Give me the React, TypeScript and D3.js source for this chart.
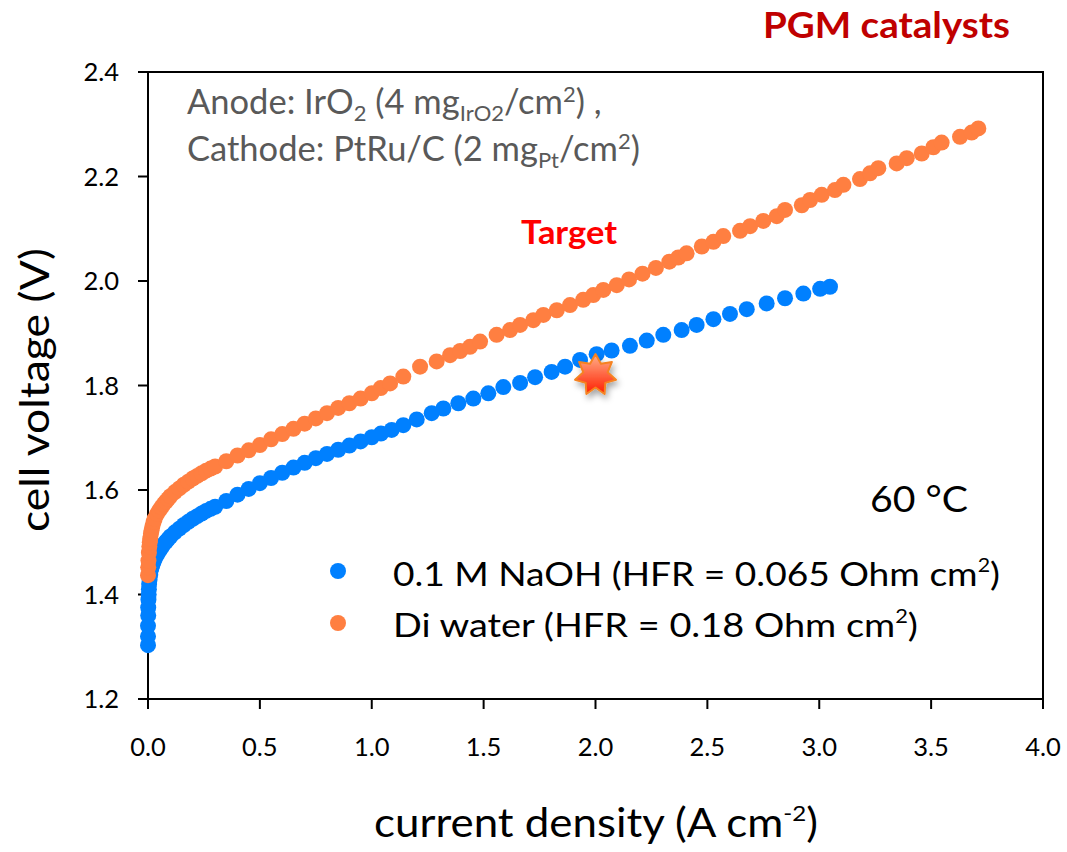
import React from 'react';
import * as d3 from 'd3';

const naohCurrent = [0, 0, 0, 0.001, 0.001, 0.002, 0.003, 0.004, 0.005, 0.007, 0.01, 0.015, 0.02, 0.025, 0.03, 0.04, 0.05, 0.06, 0.07, 0.08, 0.09, 0.1, 0.12, 0.14, 0.16, 0.18, 0.2, 0.22, 0.24, 0.26, 0.28, 0.3, 0.35, 0.4, 0.45, 0.5, 0.55, 0.6, 0.65, 0.7, 0.75, 0.8, 0.85, 0.9, 0.95, 1.0, 1.041, 1.089, 1.141, 1.201, 1.268, 1.32, 1.387, 1.454, 1.521, 1.588, 1.663, 1.73, 1.804, 1.864, 1.931, 2.005, 2.072, 2.154, 2.229, 2.303, 2.385, 2.452, 2.527, 2.601, 2.676, 2.765, 2.847, 2.929, 3.004, 3.048];
const naohVoltage = [1.303, 1.32, 1.34, 1.36, 1.375, 1.39, 1.4, 1.41, 1.42, 1.428, 1.438, 1.45, 1.457, 1.463, 1.468, 1.476, 1.483, 1.49, 1.496, 1.501, 1.506, 1.511, 1.519, 1.526, 1.533, 1.539, 1.545, 1.55, 1.555, 1.56, 1.564, 1.568, 1.579, 1.591, 1.602, 1.613, 1.623, 1.633, 1.643, 1.652, 1.661, 1.669, 1.677, 1.685, 1.693, 1.701, 1.708, 1.715, 1.724, 1.735, 1.747, 1.756, 1.766, 1.775, 1.785, 1.797, 1.805, 1.816, 1.826, 1.836, 1.849, 1.86, 1.867, 1.876, 1.886, 1.897, 1.906, 1.916, 1.927, 1.937, 1.946, 1.957, 1.967, 1.976, 1.985, 1.989];

const diCurrent = [0, 0.001, 0.002, 0.004, 0.006, 0.008, 0.01, 0.013, 0.016, 0.02, 0.025, 0.03, 0.04, 0.05, 0.06, 0.07, 0.08, 0.09, 0.1, 0.12, 0.14, 0.16, 0.18, 0.2, 0.22, 0.24, 0.26, 0.28, 0.3, 0.35, 0.4, 0.45, 0.5, 0.55, 0.6, 0.65, 0.7, 0.75, 0.8, 0.85, 0.9, 0.95, 1.0, 1.04, 1.082, 1.141, 1.216, 1.29, 1.35, 1.395, 1.439, 1.484, 1.558, 1.618, 1.663, 1.722, 1.767, 1.827, 1.886, 1.945, 1.99, 2.035, 2.095, 2.15, 2.21, 2.27, 2.33, 2.37, 2.407, 2.475, 2.527, 2.571, 2.646, 2.691, 2.75, 2.81, 2.847, 2.922, 2.959, 3.011, 3.07, 3.108, 3.182, 3.227, 3.264, 3.346, 3.391, 3.458, 3.51, 3.547, 3.629, 3.681, 3.711];
const diVoltage = [1.437, 1.452, 1.465, 1.48, 1.492, 1.5, 1.507, 1.516, 1.523, 1.531, 1.539, 1.545, 1.554, 1.561, 1.567, 1.573, 1.578, 1.583, 1.588, 1.596, 1.603, 1.61, 1.616, 1.622, 1.627, 1.632, 1.637, 1.641, 1.645, 1.655, 1.666, 1.676, 1.686, 1.697, 1.707, 1.717, 1.727, 1.737, 1.747, 1.757, 1.766, 1.775, 1.785, 1.795, 1.804, 1.817, 1.836, 1.846, 1.858, 1.866, 1.874, 1.884, 1.897, 1.906, 1.916, 1.925, 1.935, 1.944, 1.954, 1.964, 1.973, 1.983, 1.992, 2.003, 2.014, 2.025, 2.037, 2.045, 2.053, 2.066, 2.075, 2.086, 2.096, 2.105, 2.115, 2.124, 2.136, 2.145, 2.155, 2.165, 2.174, 2.184, 2.195, 2.206, 2.216, 2.225, 2.235, 2.244, 2.256, 2.265, 2.276, 2.284, 2.292];

const xTicks = [0, 0.5, 1.0, 1.5, 2.0, 2.5, 3.0, 3.5, 4.0];
const yTicks = [1.2, 1.4, 1.6, 1.8, 2.0, 2.2, 2.4];
const targetCurrent = 2.0;
const targetVoltage = 1.82;

const BLUE = '#0080ff';
const ORANGE = '#ff7f41';
const FONT = 'Lato, "Open Sans", sans-serif';

export default function App() {
  const W = 1067;
  const H = 852;
  const x = d3.scaleLinear().domain([0, 4]).range([148, 1043]);
  const y = d3.scaleLinear().domain([1.2, 2.4]).range([699, 72]);
  const naoh = d3.zip(naohCurrent, naohVoltage);
  const di = d3.zip(diCurrent, diVoltage);
  const R = 8;
  const starPts = d3.range(14).map((k) => {
    const a = -Math.PI / 2 + (k * Math.PI) / 7;
    const r = k % 2 === 0 ? 21 : 12.5;
    return [r * Math.cos(a), r * Math.sin(a)];
  });
  const starPath = d3.line()(starPts as [number, number][]) + 'Z';
  const x0 = x.range()[0];
  const x1 = x.range()[1];
  const y0 = y.range()[0];
  const y1 = y.range()[1];

  return (
    <svg width={W} height={H} style={{ position: 'absolute', left: 0, top: 0, background: '#fff' }} fontFamily={FONT}>
      <defs>
        <linearGradient id="starGrad" x1="0" y1="0" x2="0" y2="1">
          <stop offset="0" stopColor="#ffb08a" />
          <stop offset="1" stopColor="#ff1e00" />
        </linearGradient>
        <filter id="shadow" x="-50%" y="-50%" width="200%" height="200%">
          <feDropShadow dx="2" dy="4" stdDeviation="3" floodColor="#000" floodOpacity="0.35" />
        </filter>
      </defs>

      {/* frame */}
      <rect x={x0} y={y1} width={x1 - x0} height={y0 - y1} fill="none" stroke="#000" strokeWidth={2} />
      {yTicks.map((t) => (
        <g key={'y' + t}>
          <line x1={x0 - 10} x2={x0} y1={y(t)} y2={y(t)} stroke="#000" strokeWidth={2} />
          <text x={x0 - 29} y={y(t)} dy="0.36em" textAnchor="end" fontSize={25.5} fill="#000">
            {t.toFixed(1)}
          </text>
        </g>
      ))}
      {xTicks.map((t) => (
        <g key={'x' + t}>
          <line x1={x(t)} x2={x(t)} y1={y0} y2={y0 + 10} stroke="#000" strokeWidth={2} />
          <text x={x(t)} y={756} textAnchor="middle" fontSize={25.5} fill="#000">
            {t.toFixed(1)}
          </text>
        </g>
      ))}

      {/* axis titles */}
      <text x={374} y={837} fontSize={40} fill="#000" textLength={444} lengthAdjust="spacingAndGlyphs">
        current density (A cm<tspan dy={-16} fontSize={22}>-2</tspan><tspan dy={16}>)</tspan>
      </text>
      <text transform="translate(49,390) rotate(-90)" textAnchor="middle" fontSize={40} fill="#000" textLength={284} lengthAdjust="spacingAndGlyphs">
        cell voltage (V)
      </text>

      {/* data */}
      <g>
        {naoh.map(([c, v], i) => (
          <circle key={'n' + i} cx={x(c)} cy={y(v)} r={R} fill={BLUE} />
        ))}
      </g>
      <g>
        {di.map(([c, v], i) => (
          <circle key={'d' + i} cx={x(c)} cy={y(v)} r={R} fill={ORANGE} />
        ))}
      </g>

      {/* target star */}
      <g transform={`translate(${x(targetCurrent)},${y(targetVoltage)})`} filter="url(#shadow)">
        <path d={starPath} fill="url(#starGrad)" stroke="#f58220" strokeWidth={2} strokeLinejoin="round" />
      </g>
      <text x={521} y={244} fontSize={33} fontWeight="bold" fill="#ff0000" textLength={96} lengthAdjust="spacingAndGlyphs">Target</text>

      {/* title */}
      <text x={763} y={38} fontSize={36} fontWeight="bold" fill="#c00000" textLength={247} lengthAdjust="spacingAndGlyphs">PGM catalysts</text>

      {/* annotation */}
      <text x={187} y={114} fontSize={34.5} fill="#595959">
        Anode: IrO<tspan dy={7} fontSize={22}>2</tspan>
        <tspan dy={-7}> (4 mg</tspan>
        <tspan dy={7} fontSize={22}>IrO2</tspan>
        <tspan dy={-7}>/cm</tspan>
        <tspan dy={-12} fontSize={22}>2</tspan>
        <tspan dy={12}>) ,</tspan>
      </text>
      <text x={187} y={161} fontSize={34.5} fill="#595959">
        Cathode: PtRu/C (2 mg<tspan dy={7} fontSize={22}>Pt</tspan>
        <tspan dy={-7}>/cm</tspan>
        <tspan dy={-12} fontSize={22}>2</tspan>
        <tspan dy={12}>)</tspan>
      </text>

      {/* temperature */}
      <text x={870} y={512} fontSize={37} fill="#000" textLength={98} lengthAdjust="spacingAndGlyphs">60 °C</text>

      {/* legend */}
      <circle cx={338} cy={571} r={R} fill={BLUE} />
      <text x={393} y={586} fontSize={33} fill="#000" textLength={607} lengthAdjust="spacingAndGlyphs">
        0.1 M NaOH (HFR = 0.065 Ohm cm<tspan dy={-14} fontSize={19}>2</tspan><tspan dy={14}>)</tspan>
      </text>
      <circle cx={338} cy={623} r={R} fill={ORANGE} />
      <text x={393} y={637} fontSize={33} fill="#000" textLength={525} lengthAdjust="spacingAndGlyphs">
        Di water (HFR = 0.18 Ohm cm<tspan dy={-14} fontSize={19}>2</tspan><tspan dy={14}>)</tspan>
      </text>
    </svg>
  );
}
